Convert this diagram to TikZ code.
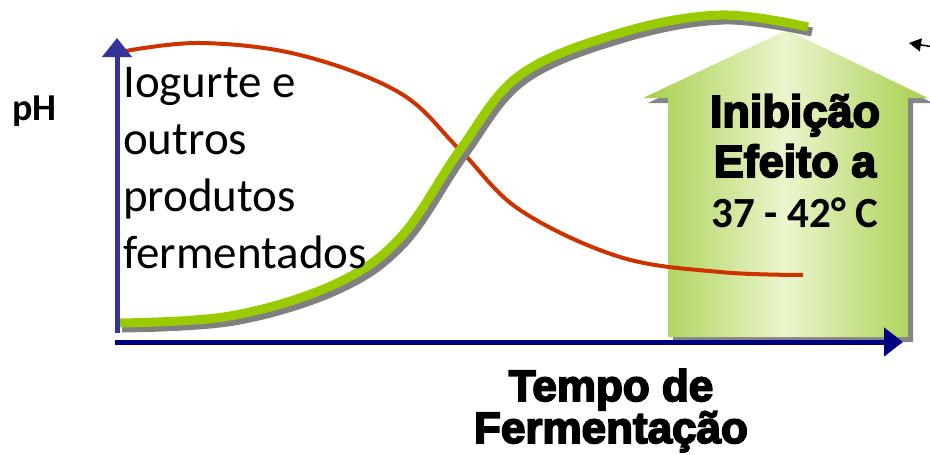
\documentclass[tikz,border=0pt]{standalone}
\usepackage{fontspec}
\setmainfont{Carlito}
\newfontfamily\heavyfont{Liberation Sans}[UprightFont={* Bold},FakeBold=4]
\usetikzlibrary{arrows.meta}

\definecolor{axisblue}{RGB}{51,51,153}
\definecolor{axisnavy}{RGB}{0,0,128}
\definecolor{curvered}{RGB}{204,51,0}
\definecolor{curvegreen}{RGB}{153,204,0}
\definecolor{arrowgreen}{RGB}{166,207,76}
\definecolor{arrowpale}{RGB}{235,245,205}

\tikzset{axis line/.style={line width=5pt, color=#1},
         axis line/.default=axisnavy}
\tikzset{growth curve/.style={line width=9pt, color=curvegreen},
         growth shadow/.style={line width=9pt, color=gray, shift={(4,5)}},
         ph curve/.style={line width=4pt, color=curvered}}
\tikzset{heavy text/.style={inner sep=0, anchor=base, align=center,
           font=\heavyfont\fontsize{45}{50}\selectfont}}

\begin{document}
\begin{tikzpicture}[x=1pt,y=-1pt]
    \useasboundingbox (0,0) rectangle (930,455);
    % block arrow with its shadow
    \fill[gray!95, shift={(5,5)}] (668,337) -- (668,98) -- (643,98) -- (787,30)
      -- (928,98) -- (908,98) -- (908,337) -- cycle;
    \shade[left color=arrowgreen, right color=arrowgreen, middle color=arrowpale]
      (668,337) -- (668,98) -- (643,98) -- (787,30)
      -- (928,98) -- (908,98) -- (908,337) -- cycle;
    % curves
    \draw[ph curve] plot[smooth, tension=0.6] coordinates {(120,52) (200,43) (300,55)
      (400,93) (460,150) (520,210) (620,257) (720,272) (803,275)};
    \draw[growth shadow] plot[smooth, tension=0.6] coordinates {(118,323) (230,316)
      (333,285) (400,238) (460,150) (520,75) (620,33) (720,15) (808,27)};
    \draw[growth curve] plot[smooth, tension=0.6] coordinates {(118,323) (230,316)
      (333,285) (400,238) (460,150) (520,75) (620,33) (720,15) (808,27)};
    % axes
    \coordinate (ybase) at (117,333);
    \coordinate (ytip) at (117,38);
    \coordinate (xbase) at (115,342);
    \coordinate (xtip) at (903,342);
    \draw[axis line=axisblue, -{Triangle[width=29pt,length=19pt]}] (ybase) -- (ytip);
    \draw[axis line, -{Triangle[width=28pt,length=19pt]}] (xbase) -- (xtip);
    % little arrow at the edge
    \coordinate (noteend) at (934,47);
    \coordinate (notetip) at (909,43);
    \draw[line width=1.5pt, -{Triangle[width=13pt,length=12pt]}] (noteend) -- (notetip);
    % labels (base = last line)
    \node[inner sep=0, anchor=base west, font=\bfseries\fontsize{38}{46}\selectfont]
      (phlabel) at (12,120) {pH};
    \node[inner sep=0, anchor=base west, align=left, font=\fontsize{47}{57}\selectfont]
      (yogurt) at (123,268) {Iogurte e\\outros\\produtos\\fermentados};
    \node[heavy text] (inhibit) at (795,177) {Inibição\\Efeito a};
    \node[inner sep=0, anchor=base, font=\bfseries\fontsize{43}{50}\selectfont]
      (temp) at (795,227) {37 - 42° C};
    \node[heavy text, font=\heavyfont\fontsize{44}{42}\selectfont]
      (timelabel) at (611,443) {Tempo de\\Fermentação};
\end{tikzpicture}
\end{document}
